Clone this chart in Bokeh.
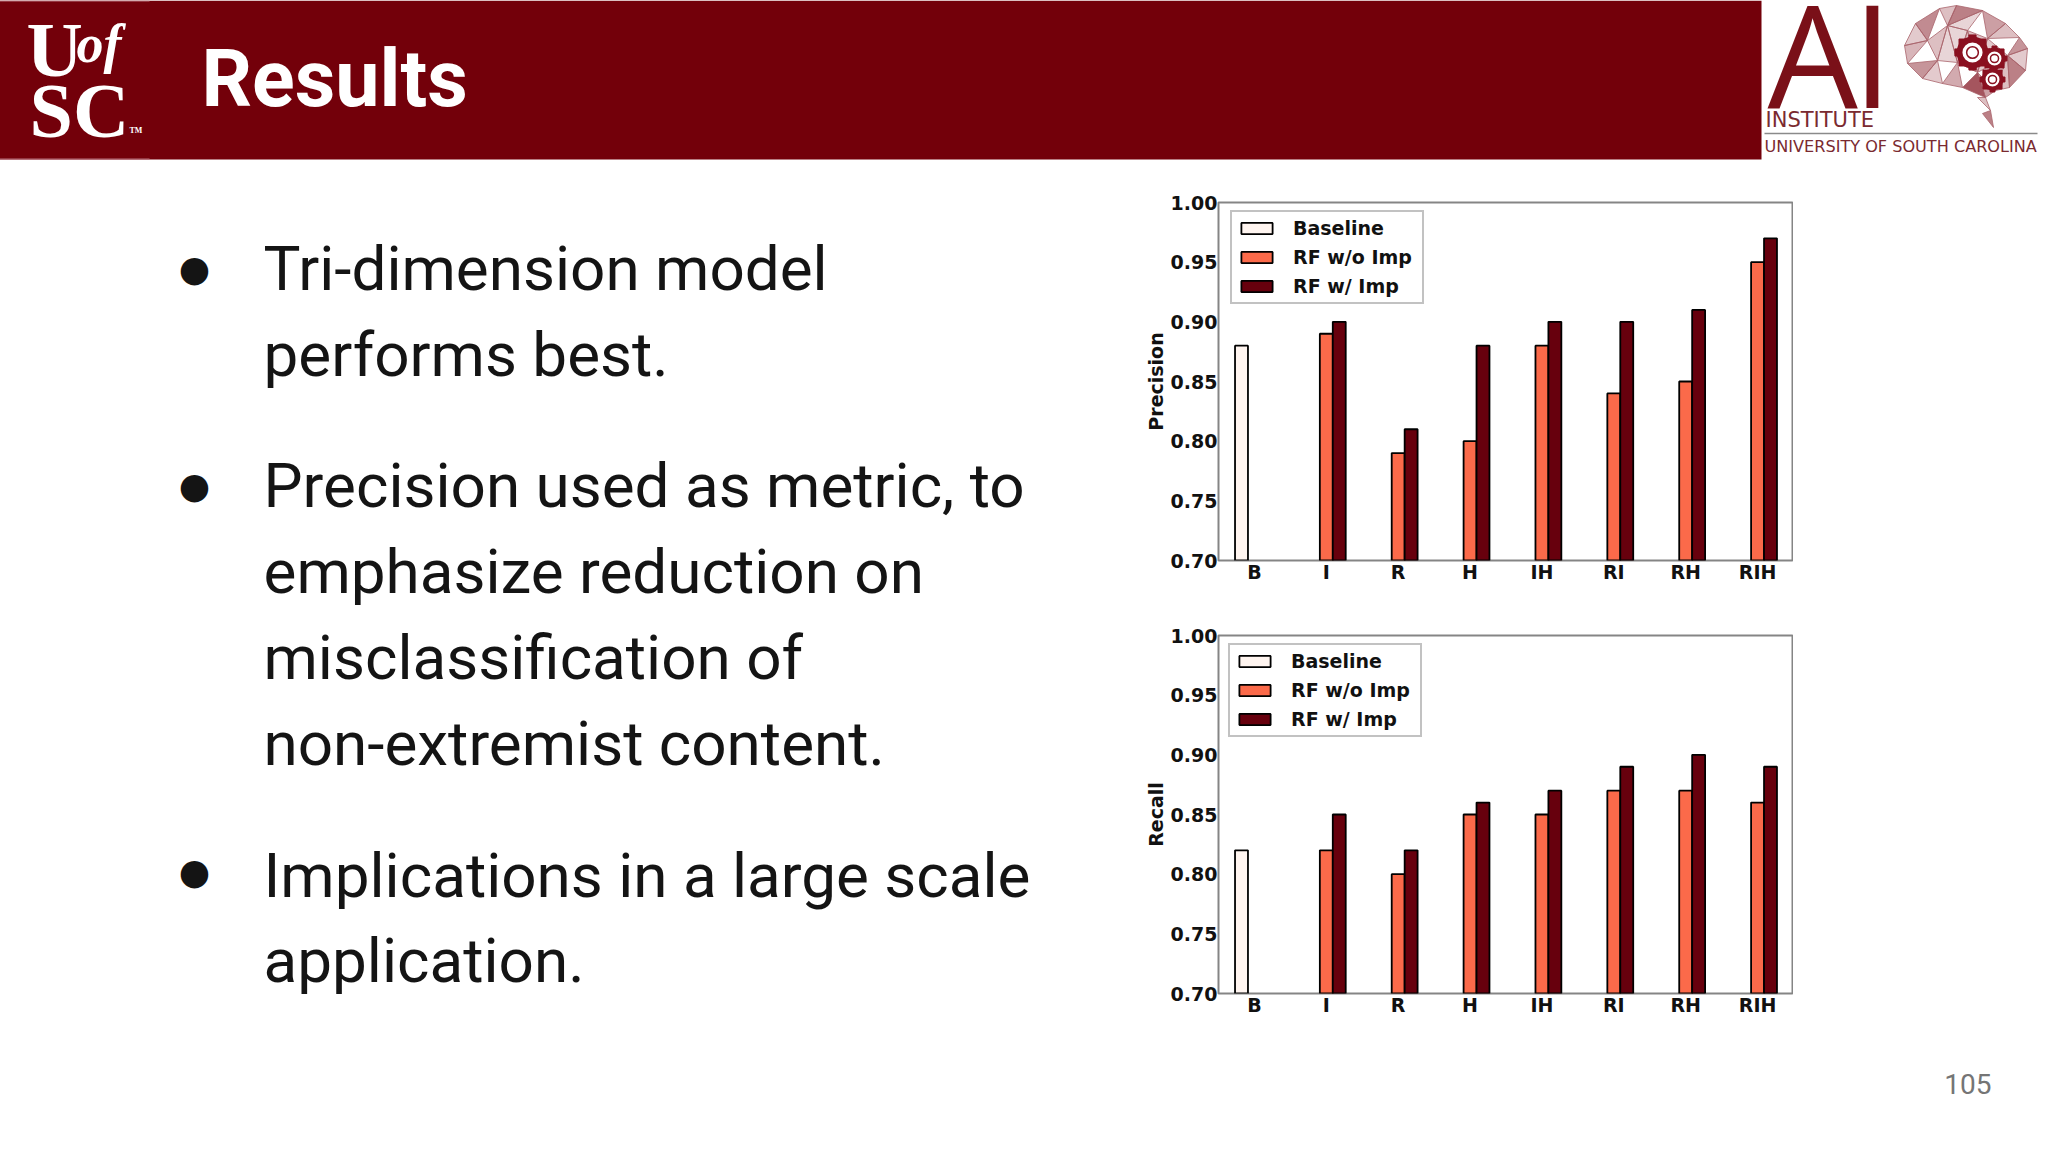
from bokeh.plotting import figure
from bokeh.core.properties import value
from bokeh.models import ColumnDataSource, FactorRange, FixedTicker, NumeralTickFormatter, Range1d, Spacer
from bokeh.layouts import column, row
from bokeh.transform import dodge
from bokeh.embed import file_html
from bokeh.resources import INLINE
import numpy as np

# chart values
categories = ["B", "I", "R", "H", "IH", "RI", "RH", "RIH"]
y_ticks = [0.70, 0.75, 0.80, 0.85, 0.90, 0.95, 1.00]

precision_baseline = [0.88]
precision_without = [0.89, 0.79, 0.80, 0.88, 0.84, 0.85, 0.95]
precision_with = [0.90, 0.81, 0.88, 0.90, 0.90, 0.91, 0.97]

recall_baseline = [0.82]
recall_without = [0.82, 0.80, 0.85, 0.85, 0.87, 0.87, 0.86]
recall_with = [0.85, 0.82, 0.86, 0.87, 0.89, 0.90, 0.89]

# text line and the y of its centre on the slide
bullet_lines = [
    ("Tri-dimension model", 268),
    ("performs best.", 354),
    ("Precision used as metric, to", 485),
    ("emphasize reduction on", 571),
    ("misclassification of", 657),
    ("non-extremist content.", 743),
    ("Implications in a large scale", 875),
    ("application.", 960),
]
bullet_dots = [268, 485, 871]

GARNET = "#73000a"
TEXT_COLOR = "#141414"
BASELINE_COLOR = "#fff5f0"
WITHOUT_COLOR = "#fb6a4a"
WITH_COLOR = "#67000d"
CHART_FONT = "DejaVu Sans"


def blank_figure(width, height):
    # figure with pixel coordinates, y going down, nothing but the canvas
    p = figure(width=width, height=height, x_range=Range1d(0, width), y_range=Range1d(height, 0),
               x_axis_type=None, y_axis_type=None, toolbar_location=None, output_backend="svg",
               min_border=0, outline_line_color=None)
    p.grid.visible = False
    return p


def bar_chart(title, baseline, without, with_imp, left_pad, top_pad, frame_width, legend_x):
    p = figure(frame_width=frame_width, frame_height=358, x_range=FactorRange(factors=categories, range_padding=0),
               y_range=Range1d(0.70, 1.00), toolbar_location=None, output_backend="svg",
               min_border_left=left_pad, min_border_right=0, min_border_top=top_pad, min_border_bottom=0)
    p.grid.visible = False
    p.outline_line_color = "#858585"
    p.outline_line_width = 2

    base_src = ColumnDataSource(dict(cat=categories[:1], val=baseline))
    rf_src = ColumnDataSource(dict(cat=categories[1:], without=without, with_imp=with_imp))

    p.vbar(x=dodge("cat", -0.18, range=p.x_range), top="val", bottom=0.70, width=0.18, source=base_src,
           fill_color=BASELINE_COLOR, line_color="black", line_width=1.8, legend_label="Baseline")
    p.vbar(x=dodge("cat", 0, range=p.x_range), top="without", bottom=0.70, width=0.18, source=rf_src,
           fill_color=WITHOUT_COLOR, line_color="black", line_width=1.8, legend_label="RF w/o Imp")
    p.vbar(x=dodge("cat", 0.18, range=p.x_range), top="with_imp", bottom=0.70, width=0.18, source=rf_src,
           fill_color=WITH_COLOR, line_color="black", line_width=1.8, legend_label="RF w/ Imp")

    p.yaxis.ticker = FixedTicker(ticks=y_ticks)
    p.yaxis.formatter = NumeralTickFormatter(format="0.00")
    p.yaxis.axis_label = title
    p.yaxis.axis_label_standoff = 1
    p.yaxis.axis_label_text_font = CHART_FONT
    p.yaxis.axis_label_text_font_size = "19px"
    p.yaxis.axis_label_text_font_style = "bold"
    p.yaxis.axis_label_text_color = "#111111"
    for ax in (p.xaxis[0], p.yaxis[0]):
        ax.axis_line_color = None
        ax.major_tick_line_color = None
        ax.minor_tick_line_color = None
        ax.major_tick_out = 0
        ax.major_tick_in = 0
        ax.major_label_standoff = 1
        ax.major_label_text_font = CHART_FONT
        ax.major_label_text_font_size = "19px"
        ax.major_label_text_font_style = "bold"
        ax.major_label_text_color = "#111111"
    p.xaxis[0].major_label_standoff = 0

    lg = p.legend[0]
    lg.location = (legend_x, 256)
    lg.padding = 5
    lg.margin = 0
    lg.spacing = 7
    lg.glyph_width = 39
    lg.glyph_height = 14
    lg.label_standoff = 17
    lg.label_height = 20
    lg.label_width = 124
    lg.label_text_font = CHART_FONT
    lg.label_text_font_size = "19px"
    lg.label_text_font_style = "bold"
    lg.label_text_color = "#111111"
    lg.border_line_color = "#858585"
    lg.border_line_width = 2
    return p


# header band with both logos
banner = blank_figure(2048, 160)
banner.quad(left=0, right=1769, top=0, bottom=159, fill_color=GARNET, line_color=None)
banner.quad(left=0, right=157, top=0, bottom=1, fill_color="#b8707a", line_color=None)
banner.quad(left=0, right=157, top=158, bottom=160, fill_color="#b8707a", line_color=None)
banner.text(x=[34], y=[49], text=["U"], text_baseline="middle", text_font=value("Liberation Serif"),
            text_font_style="bold", text_font_size="78px", text_color="white")
banner.text(x=[84], y=[43], text=["of"], text_baseline="middle", text_font=value("Liberation Serif"),
            text_font_style="bold italic", text_font_size="54px", text_color="white")
banner.text(x=[37], y=[110], text=["SC"], text_baseline="middle", text_font=value("Liberation Serif"),
            text_font_style="bold", text_font_size="78px", text_color="white")
banner.text(x=[137], y=[130], text=["TM"], text_baseline="middle", text_font=value("Liberation Serif"),
            text_font_style="bold", text_font_size="8px", text_color="white")
banner.text(x=[209], y=[78], text=["Results"], text_baseline="middle", text_font=value("Roboto"),
            text_font_style="bold", text_font_size="79px", text_color="white")

# AI Institute logo
banner.text(x=[1775], y=[52], text=["A"], text_baseline="middle", text_font=value("Open Sans"),
            text_font_size="143px", text_color="#7a1018")
banner.text(x=[1860], y=[52], text=["I"], text_baseline="middle", text_font=value("Open Sans"),
            text_font_size="143px", text_color="#7a1018")
banner.text(x=[1773], y=[119], text=["INSTITUTE"], text_baseline="middle", text_font=value("DejaVu Sans"),
            text_font_size="21px", text_color="#7a2a30")
banner.line(x=[1772, 2045], y=[133, 133], line_color="#8a8a8a", line_width=1.5)
banner.text(x=[1772], y=[146], text=["UNIVERSITY OF SOUTH CAROLINA"], text_baseline="middle",
            text_font=value("DejaVu Sans"), text_font_size="16.1px", text_color="#7a2a30")

# brain, vertices
bv = np.array([(1912, 45), (1923, 23), (1947, 8), (1964, 5), (1990, 10), (2013, 23), (2027, 37), (2035, 48),
               (2033, 70), (2017, 87), (2003, 90), (1993, 97), (1998, 110), (2001, 127), (1990, 113), (1985, 97),
               (1970, 87), (1950, 83), (1930, 78), (1915, 63),
               (1935, 40), (1955, 25), (1975, 30), (1995, 38), (1945, 60), (1965, 62), (2015, 55), (1985, 72)])
tris = [(0, 1, 20), (1, 2, 20), (2, 3, 21), (3, 4, 21), (4, 22, 21), (4, 5, 23), (5, 6, 23), (6, 7, 26), (7, 8, 26),
        (8, 9, 26), (9, 10, 26), (10, 11, 27), (11, 16, 27), (12, 13, 14), (11, 12, 15), (16, 17, 25), (17, 18, 24),
        (18, 19, 24), (19, 0, 20), (20, 21, 24), (21, 22, 25), (22, 23, 27), (24, 25, 21), (25, 27, 22), (23, 26, 27)]
alphas = [0.25, 0.55, 0.3, 0.6, 0.2, 0.45, 0.3, 0.5, 0.25, 0.6, 0.3, 0.45, 0.8, 0.6, 0.3, 0.4, 0.25, 0.5, 0.35, 0.3,
          0.2, 0.3, 0.2, 0.3, 0.25]
banner.patches(xs=[bv[list(t), 0].tolist() for t in tris], ys=[bv[list(t), 1].tolist() for t in tris],
               fill_color="#8e2b36", fill_alpha=alphas, line_color="#a9656c", line_width=0.8)
for gx, gy, gr in [(1980, 52, 13), (2002, 58, 9), (2000, 79, 9)]:
    ang = np.linspace(0, 2 * np.pi, 8, endpoint=False)
    banner.scatter(gx + (gr + 1) * np.cos(ang), gy + (gr + 1) * np.sin(ang), size=gr * 0.55, marker="square",
                   color="#8a1020")
    banner.circle(x=[gx], y=[gy], radius=gr, fill_color="white", line_color="#8a1020", line_width=gr * 0.45)
    banner.circle(x=[gx], y=[gy], radius=gr * 0.45, fill_color="white", line_color="#8a1020", line_width=1.5)

# bullet text, slide y minus the height of the banner
text_fig = blank_figure(1145, 992)
text_fig.text(x=[271] * len(bullet_lines), y=[y - 160 for _, y in bullet_lines], text=[t for t, _ in bullet_lines],
              text_baseline="middle", text_font=value("Roboto"), text_font_size="62px", text_color=TEXT_COLOR)
text_fig.text(x=[202] * len(bullet_dots), y=[y - 160 for y in bullet_dots], text=["●"] * len(bullet_dots),
              text_align="center", text_baseline="middle", text_font=value("DejaVu Sans"), text_font_size="36px",
              text_color=TEXT_COLOR)

chart_top = bar_chart("Precision", precision_baseline, precision_without, precision_with, 81, 42, 575, 12)
chart_bottom = bar_chart("Recall", recall_baseline, recall_without, recall_with, 81, 50, 575, 10)

# page number
page_fig = blank_figure(248, 992)
page_fig.text(x=[198], y=[923], text=["105"], text_align="right", text_baseline="middle", text_font=value("Roboto"),
              text_font_size="28px", text_color="#757575")

body = row(text_fig, column(chart_top, chart_bottom, Spacer(height=132)), page_fig)
page = column(banner, body, margin=(0, 0, 0, -8))

open("out.html", "w").write(file_html(page, INLINE))
